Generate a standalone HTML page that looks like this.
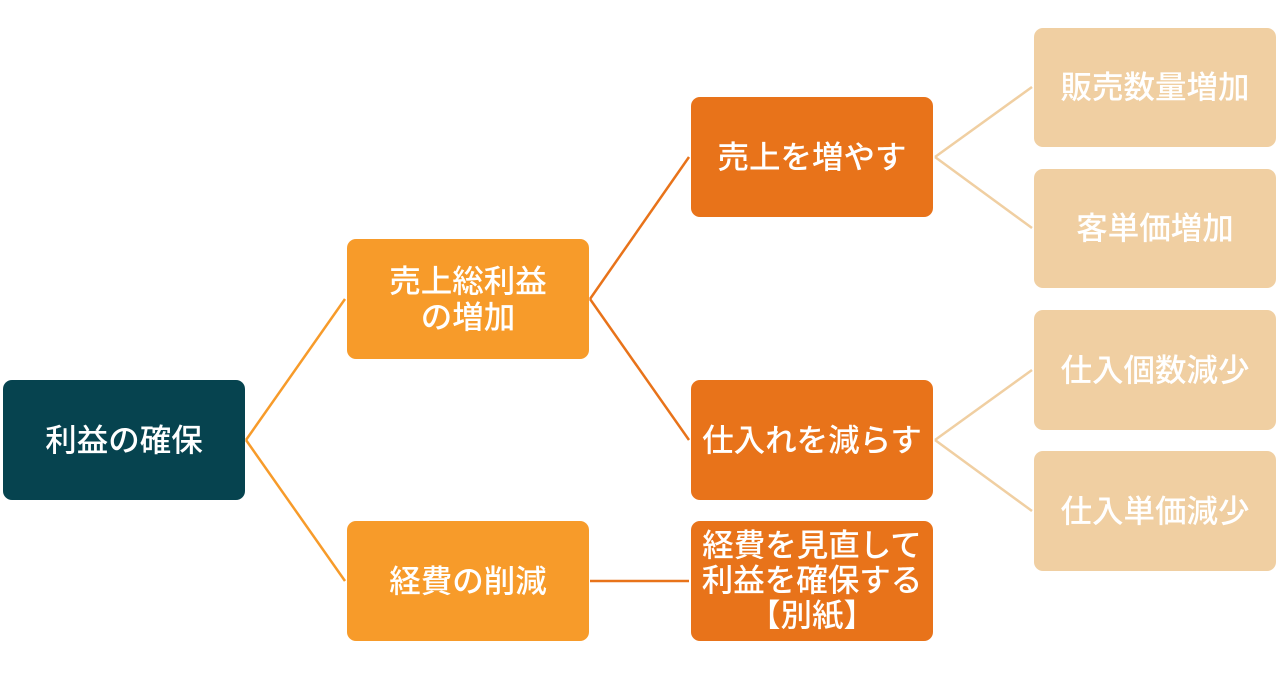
<!DOCTYPE html>
<html><head><meta charset="utf-8"><style>
html,body{margin:0;padding:0;background:#fff;}
svg text{font-family:"Liberation Sans","Noto Sans CJK JP",sans-serif;font-size:31.5px;fill:#fff;text-anchor:middle;dominant-baseline:central;font-weight:500;}
</style></head><body>
<svg width="1280" height="668" xmlns="http://www.w3.org/2000/svg">
<g stroke-width="2.5" fill="none">
<line x1="246" y1="440" x2="345" y2="299" stroke="#f79b2a"/>
<line x1="246" y1="440" x2="345" y2="581" stroke="#f79b2a"/>
<line x1="590" y1="299" x2="689" y2="157" stroke="#e8731a"/>
<line x1="590" y1="299" x2="689" y2="440" stroke="#e8731a"/>
<line x1="590" y1="581" x2="689" y2="581" stroke="#e8731a"/>
<line x1="935" y1="157" x2="1032" y2="87" stroke="#f0cfa2"/>
<line x1="935" y1="157" x2="1032" y2="228" stroke="#f0cfa2"/>
<line x1="935" y1="440" x2="1032" y2="370" stroke="#f0cfa2"/>
<line x1="935" y1="440" x2="1032" y2="511" stroke="#f0cfa2"/>
</g>
<rect x="3" y="380" width="242" height="120" rx="9" fill="#06434f"/>
<text x="124" y="440">利益の確保</text>
<rect x="347" y="239" width="242" height="120" rx="9" fill="#f79b2a"/>
<text x="468" y="281">売上総利益</text>
<text x="468" y="317">の増加</text>
<rect x="347" y="521" width="242" height="120" rx="9" fill="#f79b2a"/>
<text x="468" y="581">経費の削減</text>
<rect x="691" y="97" width="242" height="120" rx="9" fill="#e8731a"/>
<text x="812" y="157">売上を増やす</text>
<rect x="691" y="380" width="242" height="120" rx="9" fill="#e8731a"/>
<text x="812" y="440">仕入れを減らす</text>
<rect x="691" y="521" width="242" height="120" rx="9" fill="#e8731a"/>
<text x="812" y="545">経費を見直して</text>
<text x="812" y="580">利益を確保する</text>
<text x="812" y="615">【別紙】</text>
<g fill="#f0cfa2">
<rect x="1034" y="28" width="242" height="119" rx="9"/>
<rect x="1034" y="169" width="242" height="119" rx="9"/>
<rect x="1034" y="310" width="242" height="120" rx="9"/>
<rect x="1034" y="451" width="242" height="120" rx="9"/>
</g>
<text x="1155" y="87">販売数量増加</text>
<text x="1155" y="228">客単価増加</text>
<text x="1155" y="370">仕入個数減少</text>
<text x="1155" y="511">仕入単価減少</text>
</svg>
</body></html>
